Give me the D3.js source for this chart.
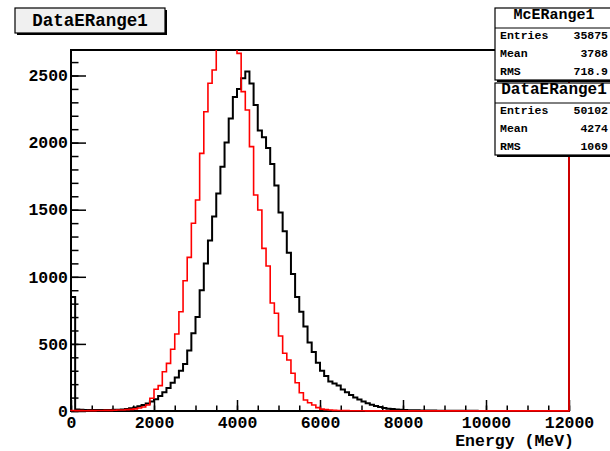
<!DOCTYPE html>
<html>
<head>
<meta charset="utf-8">
<script src="https://cdn.jsdelivr.net/npm/d3@7"></script>
<style>
body { margin: 0; background: #fff; }
svg { display: block; font-family: "Liberation Mono", "Courier New", monospace; font-weight: bold; }
</style>
</head>
<body>
<div id="chart-area"></div>
<script>

// SVG Size
var width = 610,
		height = 451;

// Histogram range (MeV) and bin width
var xMin = 0, xMax = 12000, binWidth = 100;
var yMax = 2690;

// MC histogram (red), one value per 100 MeV bin
var mcCounts = [
	4, 3, 3, 2, 3, 3, 4, 4, 5, 5,
	6, 7, 8, 10, 12, 16, 22, 30, 45, 95,
	162, 189, 293, 355, 460, 574, 740, 971, 1145, 1399,
	1572, 1920, 2230, 2442, 2541, 2800, 2950, 3050, 3000, 2850,
	2665, 2380, 2243, 1970, 1610, 1498, 1212, 1080, 805, 728,
	559, 430, 380, 281, 211, 136, 82, 62, 45, 25,
	14, 10, 7, 5, 4, 3, 3, 2, 2, 2,
	2, 1, 1, 1, 1, 1, 1, 1, 1, 1,
	1, 1, 1, 1, 1, 1, 1, 1, 1, 1,
	1, 1, 1, 1, 1, 1, 1, 1, 1, 1,
	1, 1, 1, 1, 1, 1, 1, 1, 1, 1,
	1, 1, 1, 1, 1, 1, 1, 1, 1, 1
];
// MC entries piled up at the upper edge (drawn as the closing edge)
var mcOverflow = 3000;

// Data histogram (black)
var dataCounts = [
	850, 12, 10, 8, 8, 7, 7, 7, 8, 8,
	9, 10, 12, 15, 20, 27, 35, 45, 56, 70,
	88, 112, 140, 172, 210, 250, 300, 350, 450, 580,
	700, 900, 1100, 1270, 1450, 1620, 1820, 2000, 2180, 2340,
	2400, 2480, 2530, 2440, 2280, 2090, 2040, 1960, 1840, 1680,
	1480, 1340, 1180, 1020, 850, 740, 630, 510, 440, 360,
	300, 260, 220, 205, 190, 160, 140, 120, 100, 85,
	70, 58, 47, 38, 30, 22, 17, 14, 12, 9,
	7, 6, 5, 5, 4, 4, 3, 3, 2, 2,
	2, 1, 1, 1, 1, 1, 1, 1, 0, 0,
	0, 0, 0, 0, 0, 0, 0, 0, 0, 0,
	0, 0, 0, 0, 0, 0, 0, 0, 0, 0
];
var dataOverflow = 0;

// Tick values
var xTicks = [0, 2000, 4000, 6000, 8000, 10000, 12000];
var xMinorTicks = d3.range(0, 12001, 500);
var yTicks = [0, 500, 1000, 1500, 2000, 2500];
var yMinorTicks = d3.range(0, 2690, 100);

// Stats boxes
var statNames = ["Entries", "Mean", "RMS"];
var mcStats = ["35875", "3788", "718.9"];
var dataStats = ["50102", "4274", "1069"];

var titleText = "DataERange1";
var xTitle = "Energy (MeV)";

// Frame in pixels
var frame = { left: 71, right: 569, top: 50, bottom: 411 };

var svg = d3.select("#chart-area").append("svg")
		.attr("width", width)
		.attr("height", height);

var x = d3.scaleLinear()
	.domain([xMin, xMax])
	.range([frame.left, frame.right]);

var y = d3.scaleLinear()
	.domain([0, yMax])
	.range([frame.bottom, frame.top]);

svg.append("clipPath")
		.attr("id", "frame-clip")
	.append("rect")
		.attr("x", frame.left - 2)
		.attr("y", frame.top)
		.attr("width", frame.right - frame.left + 4)
		.attr("height", frame.bottom - frame.top + 2);

// Frame
svg.append("rect")
	.attr("x", frame.left)
	.attr("y", frame.top)
	.attr("width", frame.right - frame.left)
	.attr("height", frame.bottom - frame.top)
	.attr("fill", "none")
	.attr("stroke", "#000")
	.attr("stroke-width", 2);

// Axes
var yAxis = d3.axisLeft(y)
	.tickValues(yTicks)
	.tickFormat(d3.format("d"))
	.tickSizeInner(-15)
	.tickSizeOuter(0)
	.tickPadding(3);

var yMinor = d3.axisLeft(y)
	.tickValues(yMinorTicks)
	.tickSize(-7.5)
	.tickFormat("");

var xAxis = d3.axisBottom(x)
	.tickValues(xTicks)
	.tickFormat(d3.format("d"))
	.tickSizeInner(-11)
	.tickSizeOuter(0)
	.tickPadding(5);

var xMinor = d3.axisBottom(x)
	.tickValues(xMinorTicks)
	.tickSize(-5.5)
	.tickFormat("");

function styleAxis(g) {
	g.select(".domain").remove();
	g.selectAll("line").attr("stroke", "#000").attr("stroke-width", 1.5);
	g.selectAll("text")
		.attr("fill", "#000")
		.style("font-family", "'Liberation Mono', monospace")
		.style("font-weight", "bold")
		.style("font-size", "16.5px");
}

svg.append("g").attr("transform", "translate(" + frame.left + ",0)").call(yMinor).call(styleAxis);
svg.append("g").attr("transform", "translate(" + frame.left + ",0)").call(yAxis).call(styleAxis);
svg.append("g").attr("transform", "translate(0," + frame.bottom + ")").call(xMinor).call(styleAxis);
svg.append("g").attr("transform", "translate(0," + frame.bottom + ")").call(xAxis).call(styleAxis);

svg.append("text")
	.attr("x", 574)
	.attr("y", 446)
	.attr("text-anchor", "end")
	.style("font-size", "16.5px")
	.text(xTitle);

// Histograms as step outlines
function histPoints(counts, overflow) {
	var pts = [[xMin, 0]];
	counts.forEach(function(c, i) { pts.push([xMin + i * binWidth, c]); });
	pts.push([xMax, overflow]);
	pts.push([xMax, 0]);
	return pts;
}

var stepLine = d3.line()
	.x(function(d) { return x(d[0]); })
	.y(function(d) { return y(d[1]); })
	.curve(d3.curveStepAfter);

svg.append("path")
	.attr("clip-path", "url(#frame-clip)")
	.attr("d", stepLine(histPoints(dataCounts, dataOverflow)))
	.attr("fill", "none")
	.attr("stroke", "#000")
	.attr("stroke-width", 2);

svg.append("path")
	.attr("clip-path", "url(#frame-clip)")
	.attr("d", stepLine(histPoints(mcCounts, mcOverflow)))
	.attr("fill", "none")
	.attr("stroke", "#ff0000")
	.attr("stroke-width", 1.6);

// Title box
svg.append("rect")
	.attr("x", 17).attr("y", 10).attr("width", 150).attr("height", 25)
	.attr("fill", "#000");
svg.append("rect")
	.attr("x", 15).attr("y", 8).attr("width", 150).attr("height", 25)
	.attr("fill", "#f0f0f0")
	.attr("stroke", "#000")
	.attr("stroke-width", 1.2);
svg.append("text")
	.attr("x", 90).attr("y", 26)
	.attr("text-anchor", "middle")
	.style("font-size", "17.5px")
	.text(titleText);

// Stats boxes
function statsBox(top, name, values, headerSize) {
	var g = svg.append("g");
	g.append("rect")
		.attr("x", 497).attr("y", top + 2).attr("width", 122).attr("height", 72)
		.attr("fill", "#000");
	g.append("rect")
		.attr("x", 495).attr("y", top).attr("width", 122).attr("height", 72)
		.attr("fill", "#fff")
		.attr("stroke", "#000")
		.attr("stroke-width", 1.2);
	g.append("line")
		.attr("x1", 495).attr("x2", 617)
		.attr("y1", top + 20).attr("y2", top + 20)
		.attr("stroke", "#000").attr("stroke-width", 1);
	g.append("text")
		.attr("x", 554).attr("y", top + 11)
		.attr("text-anchor", "middle")
		.style("font-size", headerSize)
		.text(name);
	statNames.forEach(function(s, i) {
		g.append("text")
			.attr("x", 500).attr("y", top + 30.5 + i * 18)
			.style("font-size", "11.5px")
			.text(s);
		g.append("text")
			.attr("x", 608).attr("y", top + 30.5 + i * 18)
			.attr("text-anchor", "end")
			.style("font-size", "11.5px")
			.text(values[i]);
	});
}

statsBox(8, "McERange1", mcStats, "15px");
statsBox(83, "DataERange1", dataStats, "16px");

</script>
</body>
</html>
